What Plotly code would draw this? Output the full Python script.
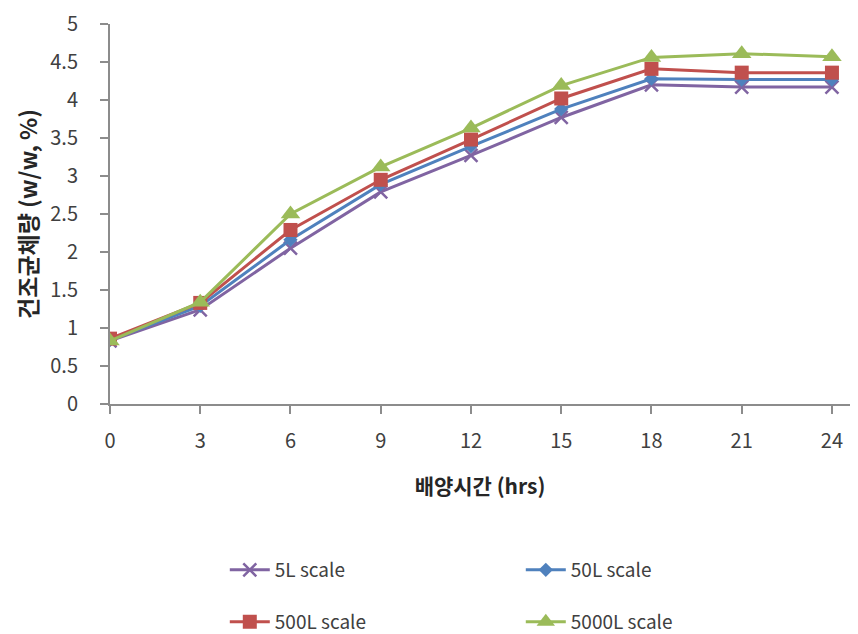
import plotly.graph_objects as go

# Culture time (hrs)
hours = [0, 3, 6, 9, 12, 15, 18, 21, 24]

# Dry cell weight (w/w, %) per fermentation scale
scale_5L = [0.83, 1.24, 2.05, 2.79, 3.27, 3.77, 4.20, 4.17, 4.17]
scale_50L = [0.84, 1.29, 2.16, 2.89, 3.39, 3.88, 4.28, 4.27, 4.27]
scale_500L = [0.86, 1.33, 2.29, 2.95, 3.48, 4.02, 4.41, 4.36, 4.36]
scale_5000L = [0.83, 1.34, 2.50, 3.12, 3.63, 4.19, 4.56, 4.61, 4.57]

series_names = ["5L scale", "50L scale", "500L scale", "5000L scale"]
y_ticks = [0, 0.5, 1, 1.5, 2, 2.5, 3, 3.5, 4, 4.5, 5]

FONT = "Noto Sans CJK KR, Malgun Gothic, sans-serif"
AXIS_GRAY = "#8c8c8c"
TEXT = "#404040"

styles = [
    dict(color="#8064A2", symbol="x-thin-open", size=13, mline=2.5, legend="legend"),
    dict(color="#4F81BD", symbol="diamond", size=11, mline=0, legend="legend"),
    dict(color="#C0504D", symbol="square", size=14, mline=0, legend="legend2"),
    dict(color="#9BBB59", symbol="triangle-up", size=17, mline=0, legend="legend2"),
]

fig = go.Figure()
for name, vals, st in zip(series_names, [scale_5L, scale_50L, scale_500L, scale_5000L], styles):
    fig.add_trace(go.Scatter(
        x=hours, y=vals, name=name, mode="lines+markers",
        line=dict(color=st["color"], width=3),
        marker=dict(symbol=st["symbol"], size=st["size"], color=st["color"],
                    line=dict(color=st["color"], width=st["mline"])),
        legend=st["legend"],
    ))

legend_common = dict(
    orientation="h", xref="container", yref="container",
    xanchor="left", yanchor="middle", x=0.262,
    entrywidth=241, entrywidthmode="pixels",
    font=dict(family=FONT, size=19, color=TEXT),
    bgcolor="rgba(0,0,0,0)", itemwidth=40, tracegroupgap=0,
)

fig.update_layout(
    width=858, height=634,
    margin=dict(l=110, r=8, t=20, b=230),
    paper_bgcolor="white", plot_bgcolor="white",
    font=dict(family=FONT, color=TEXT),
    legend=dict(legend_common, y=1 - 570 / 634),
    legend2=dict(legend_common, y=1 - 622 / 634),
    xaxis=dict(
        range=[0, 24.6], tickmode="array", tickvals=hours,
        ticktext=[str(h) for h in hours],
        showline=True, linecolor=AXIS_GRAY, linewidth=2,
        ticks="outside", ticklen=8, tickcolor=AXIS_GRAY, tickwidth=1.5,
        ticklabelstandoff=10,
        showgrid=False, zeroline=False,
        tickfont=dict(family=FONT, size=20, color=TEXT),
        title=dict(text="<b>배양시간 (hrs)</b>", standoff=26,
                   font=dict(family=FONT, size=21, color="#262626")),
    ),
    yaxis=dict(
        range=[0, 5], tickmode="array", tickvals=y_ticks,
        ticktext=[f"{v:g}" for v in y_ticks],
        showline=True, linecolor=AXIS_GRAY, linewidth=2,
        ticks="outside", ticklen=8, tickcolor=AXIS_GRAY, tickwidth=1.5,
        ticklabelstandoff=18,
        showgrid=False, zeroline=False,
        tickfont=dict(family=FONT, size=20, color=TEXT),
        title=dict(text="<b>건조균체량 (w/w, %)</b>", standoff=6,
                   font=dict(family=FONT, size=23, color="#262626")),
    ),
)

fig.write_html("out.html")
